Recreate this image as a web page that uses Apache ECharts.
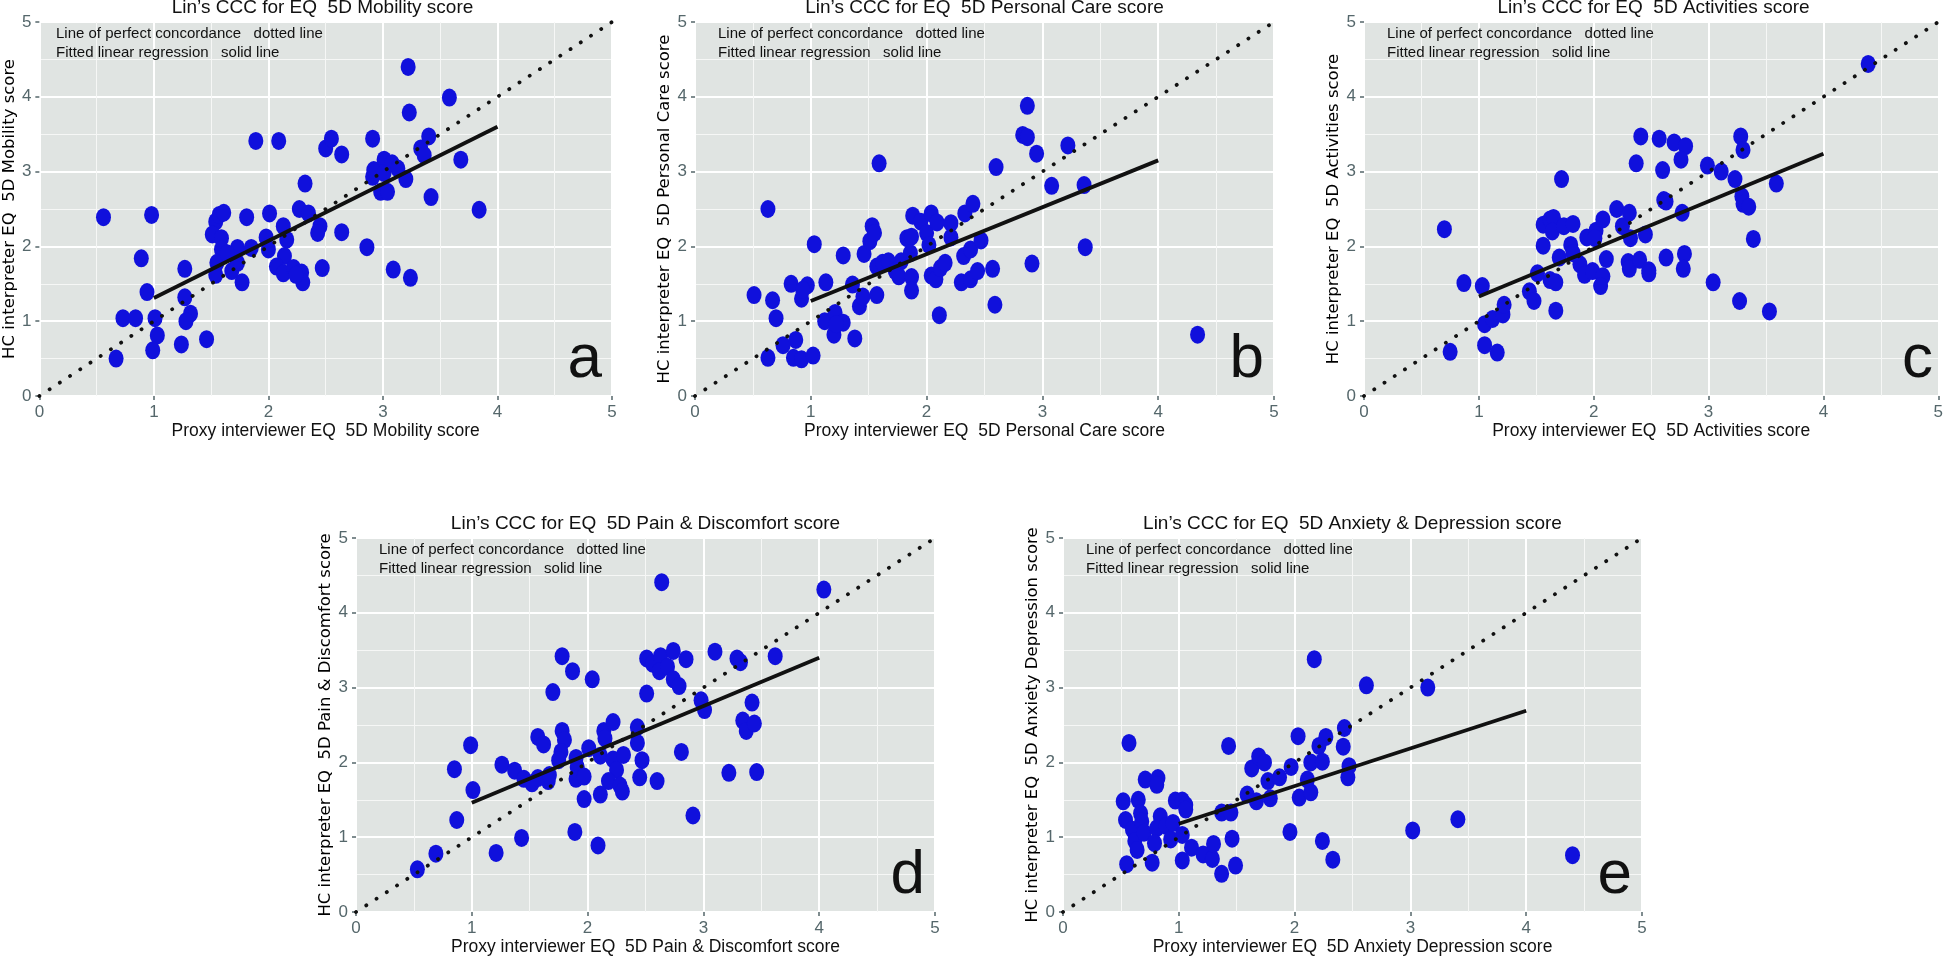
<!DOCTYPE html>
<html>
<head>
<meta charset="utf-8">
<title>Lin's CCC EQ-5D</title>
<script src="https://cdn.jsdelivr.net/npm/echarts@6/dist/echarts.min.js"></script>
<style>
  html, body { margin: 0; padding: 0; background: #fff; }
  #main { width: 1946px; height: 958px; }
</style>
</head>
<body>
<div id="main"></div>
<script>
// values: [proxy score, HC interpreter score]
var mobilityPts = [
  [0.56,2.39],[0.98,2.42],[0.89,1.84],[0.94,1.39],[0.73,1.04],[0.84,1.04],[1.01,1.04],[1.03,0.81],
  [0.99,0.61],[0.67,0.50],[1.27,1.70],[1.27,1.32],[1.32,1.10],[1.28,1.00],[1.24,0.69],[1.46,0.76],
  [1.54,2.33],[1.57,2.42],[1.61,2.45],[1.51,2.16],[1.59,2.11],[1.59,1.96],[1.55,1.78],[1.54,1.62],
  [1.68,1.67],[1.73,1.78],[1.73,1.98],[1.64,1.91],[1.77,1.52],[1.81,2.39],[1.85,1.98],[1.89,3.41],
  [2.09,3.41],[2.01,2.44],[1.98,2.12],[2.00,1.96],[2.13,2.27],[2.16,2.09],[2.14,1.87],[2.07,1.73],
  [2.13,1.64],[2.22,1.71],[2.29,1.65],[2.30,1.52],[2.24,1.62],[2.27,2.50],[2.35,2.44],[2.32,2.84],
  [2.45,2.27],[2.43,2.18],[2.47,1.71],[2.50,3.31],[2.55,3.44],[2.64,3.23],[2.64,2.19],[2.86,1.99],
  [2.91,3.44],[2.91,2.93],[2.92,3.02],[3.01,3.16],[3.01,2.98],[2.98,2.73],[3.04,2.73],[3.08,3.11],
  [3.13,3.04],[3.20,2.90],[3.09,1.69],[3.24,1.58],[3.22,4.40],[3.23,3.79],[3.33,3.31],[3.36,3.22],
  [3.40,3.47],[3.42,2.66],[3.58,3.99],[3.68,3.16],[3.84,2.49]
];
var mobilityFit = [[1,1.31],[4,3.60]];

var carePts = [
  [0.63,2.50],[0.51,1.35],[0.67,1.28],[0.70,1.04],[0.63,0.51],[0.76,0.68],[0.87,0.75],[0.85,0.51],
  [0.92,0.49],[1.02,0.54],[0.83,1.50],[0.97,1.48],[0.92,1.30],[0.93,1.42],[1.03,2.03],[1.13,1.52],
  [1.28,1.88],[1.12,1.00],[1.21,1.11],[1.20,0.82],[1.28,0.98],[1.22,0.96],[1.38,0.77],[1.36,1.49],
  [1.42,1.20],[1.45,1.33],[1.46,1.90],[1.51,2.07],[1.53,2.27],[1.55,2.18],[1.57,1.35],[1.57,1.73],
  [1.59,3.11],[1.62,1.78],[1.67,1.80],[1.73,1.67],[1.76,1.60],[1.78,1.80],[1.83,2.11],[1.87,2.13],
  [1.86,1.91],[1.87,1.59],[1.87,1.41],[1.88,2.41],[1.95,2.33],[2.00,2.18],[2.02,2.02],[2.04,2.44],
  [2.09,2.32],[2.04,1.61],[2.08,1.56],[2.12,1.71],[2.16,1.78],[2.11,1.08],[2.21,2.31],[2.21,2.12],
  [2.33,2.44],[2.40,2.57],[2.32,1.87],[2.38,1.96],[2.47,2.08],[2.30,1.52],[2.38,1.56],[2.44,1.67],
  [2.57,1.70],[2.59,1.22],[2.60,3.06],[2.83,3.49],[2.87,3.46],[2.87,3.88],[2.95,3.24],[2.91,1.77],
  [3.08,2.81],[3.22,3.35],[3.36,2.82],[3.37,1.99],[4.34,0.82]
];
var careFit = [[1,1.27],[4,3.15]];

var activitiesPts = [
  [0.70,2.23],[0.75,0.59],[0.87,1.51],[1.03,1.47],[1.05,0.96],[1.05,0.68],[1.12,1.03],[1.16,0.58],
  [1.21,1.09],[1.22,1.22],[1.44,1.40],[1.48,1.27],[1.51,1.64],[1.56,2.01],[1.56,2.29],[1.62,2.36],
  [1.65,2.38],[1.64,2.20],[1.62,1.55],[1.67,1.52],[1.67,1.14],[1.72,2.90],[1.74,2.27],[1.82,2.30],
  [1.80,2.02],[1.70,1.85],[1.82,1.91],[1.88,1.76],[1.92,1.62],[1.94,2.12],[2.02,2.21],[2.01,2.11],
  [2.08,2.36],[1.99,1.67],[2.08,1.60],[2.06,1.47],[2.11,1.83],[2.20,2.50],[2.25,2.27],[2.31,2.45],
  [2.32,2.11],[2.30,1.79],[2.31,1.70],[2.40,1.82],[2.45,2.16],[2.48,1.68],[2.48,1.64],[2.37,3.11],
  [2.41,3.47],[2.57,3.44],[2.60,3.02],[2.61,2.62],[2.63,2.60],[2.63,1.85],[2.70,3.39],[2.80,3.34],
  [2.76,3.16],[2.77,2.45],[2.79,1.90],[2.78,1.70],[2.99,3.08],[3.11,3.00],[3.04,1.52],[3.23,2.90],
  [3.28,3.47],[3.30,3.29],[3.29,2.67],[3.30,2.57],[3.35,2.53],[3.27,1.27],[3.39,2.10],[3.53,1.13],
  [3.59,2.84],[4.39,4.44]
];
var activitiesFit = [[1,1.33],[4,3.24]];

var painPts = [
  [0.53,0.57],[0.69,0.78],[0.85,1.91],[0.87,1.23],[0.99,2.23],[1.01,1.63],[1.21,0.79],[1.26,1.97],
  [1.37,1.89],[1.43,0.99],[1.45,1.78],[1.52,1.72],[1.57,2.34],[1.62,2.24],[1.57,1.79],[1.66,1.75],
  [1.67,1.83],[1.70,2.94],[1.78,3.42],[1.78,2.42],[1.80,2.30],[1.77,2.14],[1.75,2.03],[1.87,3.22],
  [1.90,2.06],[1.91,1.94],[1.90,1.78],[1.97,1.81],[1.97,1.51],[1.89,1.07],[2.04,3.11],[2.01,2.19],
  [2.09,0.89],[2.11,2.09],[2.14,2.42],[2.15,2.32],[2.22,2.54],[2.22,2.04],[2.25,1.90],[2.31,2.10],
  [2.18,1.75],[2.28,1.69],[2.30,1.61],[2.11,1.57],[2.43,2.47],[2.43,2.26],[2.47,2.03],[2.45,1.80],
  [2.51,3.39],[2.51,2.92],[2.56,3.32],[2.60,1.75],[2.63,3.42],[2.62,3.22],[2.69,3.28],[2.64,4.41],
  [2.74,3.49],[2.74,3.11],[2.79,3.02],[2.85,3.38],[2.81,2.14],[2.91,1.29],[2.98,2.83],[3.01,2.70],
  [3.10,3.48],[3.22,1.86],[3.29,3.39],[3.32,3.34],[3.34,2.56],[3.37,2.42],[3.42,2.80],[3.44,2.52],
  [3.46,1.87],[3.62,3.42],[4.04,4.31]
];
var painFit = [[1,1.46],[4,3.40]];

var anxietyPts = [
  [0.57,2.26],[0.52,1.48],[0.54,1.23],[0.55,0.64],[0.60,1.10],[0.62,0.95],[0.65,1.50],[0.67,1.32],
  [0.68,1.21],[0.64,0.83],[0.70,1.06],[0.71,1.77],[0.82,1.79],[0.81,1.70],[0.77,0.66],[0.84,1.28],
  [0.81,1.12],[0.79,0.92],[0.89,1.15],[0.93,0.97],[0.95,1.19],[0.97,1.49],[1.03,1.49],[1.06,1.43],
  [1.06,1.37],[1.03,1.03],[1.03,0.69],[1.11,0.86],[1.21,0.77],[1.29,0.71],[1.30,0.91],[1.37,0.51],
  [1.37,1.33],[1.45,1.33],[1.43,2.22],[1.46,0.98],[1.49,0.62],[1.59,1.57],[1.63,1.92],[1.67,1.48],
  [1.69,2.08],[1.74,2.00],[1.77,1.75],[1.79,1.52],[1.87,1.80],[1.96,1.07],[1.97,1.94],[2.03,2.35],
  [2.04,1.53],[2.11,1.77],[2.14,1.60],[2.14,2.00],[2.17,3.38],[2.21,2.22],[2.24,2.01],[2.27,2.34],
  [2.24,0.95],[2.33,0.70],[2.42,2.21],[2.43,2.46],[2.47,1.95],[2.46,1.80],[2.62,3.03],[3.02,1.09],
  [3.15,3.00],[3.41,1.24],[4.40,0.76]
];
var anxietyFit = [[1,1.18],[4,2.69]];

var concordance = [[0,0],[5,5]];
var axisMin = 0, axisMax = 5, axisStep = 1;

var panels = [
  {letter:'a', left:33,   top:22,  pts:mobilityPts,   fit:mobilityFit,
   title:'Lin\u2019s CCC for EQ  5D Mobility score',
   xName:'Proxy interviewer EQ  5D Mobility score', yName:'HC interpreter EQ  5D Mobility score'},
  {letter:'b', left:695,  top:22,  pts:carePts,       fit:careFit,
   title:'Lin\u2019s CCC for EQ  5D Personal Care score',
   xName:'Proxy interviewer EQ  5D Personal Care score', yName:'HC interpreter EQ  5D Personal Care score'},
  {letter:'c', left:1364, top:22,  pts:activitiesPts, fit:activitiesFit,
   title:'Lin\u2019s CCC for EQ  5D Activities score',
   xName:'Proxy interviewer EQ  5D Activities score', yName:'HC interpreter EQ  5D Activities score'},
  {letter:'d', left:356,  top:538, pts:painPts,       fit:painFit,
   title:'Lin\u2019s CCC for EQ  5D Pain & Discomfort score',
   xName:'Proxy interviewer EQ  5D Pain & Discomfort score', yName:'HC interpreter EQ  5D Pain & Discomfort score'},
  {letter:'e', left:1063, top:538, pts:anxietyPts,    fit:anxietyFit,
   title:'Lin\u2019s CCC for EQ  5D Anxiety & Depression score',
   xName:'Proxy interviewer EQ  5D Anxiety Depression score', yName:'HC interpreter EQ  5D Anxiety Depression score'}
];

var W = 579, H = 374;
var narrow = '"Liberation Sans Narrow", "Arial Narrow", sans-serif';
var tickGrey = '#55676b';

var grids = [], xAxes = [], yAxes = [], series = [], graphics = [];

function axisBase(name, gap) {
  return {
    min: axisMin, max: axisMax, interval: axisStep,
    name: name, nameLocation: 'middle', nameGap: gap,
    axisLine: {show: false},
    axisTick: {show: true, length: 4, lineStyle: {color: tickGrey, width: 1.5}},
    axisLabel: {color: tickGrey, fontFamily: narrow, fontSize: 17, margin: 8},
    splitLine: {show: true, lineStyle: {color: '#ffffff', width: 2}},
    minorTick: {show: true, splitNumber: 2, length: 0},
    minorSplitLine: {show: true, lineStyle: {color: '#f6f7f6', width: 1}}
  };
}

panels.forEach(function(p, i) {
  grids.push({left: p.left, top: p.top, width: W, height: H, show: true,
    backgroundColor: '#e0e4e2', borderWidth: 0});

  var xa = axisBase(p.xName, 26);
  xa.gridIndex = i; xa.type = 'value';
  xa.nameTextStyle = {color: '#111', fontFamily: narrow, fontSize: 17.5};
  xAxes.push(xa);

  var ya = axisBase(p.yName, 16);
  ya.gridIndex = i; ya.type = 'value';
  ya.nameTextStyle = {color: '#000', fontFamily: '"DejaVu Sans", sans-serif', fontSize: 16.5};
  yAxes.push(ya);

  series.push({
    type: 'scatter', xAxisIndex: i, yAxisIndex: i,
    data: p.pts, symbol: 'circle', symbolSize: [15, 18],
    itemStyle: {color: '#1010dc', opacity: 1},
    silent: true, z: 2
  });
  series.push({
    type: 'line', xAxisIndex: i, yAxisIndex: i,
    data: concordance, symbol: 'none', silent: true, z: 3,
    lineStyle: {color: '#111', width: 3.8, type: [0.1, 12.1], cap: 'round'}
  });
  series.push({
    type: 'line', xAxisIndex: i, yAxisIndex: i,
    data: p.fit, symbol: 'none', silent: true, z: 4,
    lineStyle: {color: '#111', width: 3.8, type: 'solid'}
  });

  // panel title
  graphics.push({type: 'text', x: p.left + W / 2, y: p.top - 14, z: 10,
    style: {text: p.title, font: '19px ' + narrow, fill: '#111',
      align: 'center', verticalAlign: 'middle', textAlign: 'center', textVerticalAlign: 'middle'}});
  // legend lines
  graphics.push({type: 'text', x: p.left + 23, y: p.top + 12, z: 10,
    style: {text: 'Line of perfect concordance   dotted line', font: '15px ' + narrow, fill: '#111',
      align: 'left', verticalAlign: 'middle', textAlign: 'left', textVerticalAlign: 'middle'}});
  graphics.push({type: 'text', x: p.left + 23, y: p.top + 31, z: 10,
    style: {text: 'Fitted linear regression   solid line', font: '15px ' + narrow, fill: '#111',
      align: 'left', verticalAlign: 'middle', textAlign: 'left', textVerticalAlign: 'middle'}});
  // panel letter
  graphics.push({type: 'text', x: p.left + W - 10, y: p.top + H - 5, z: 10,
    style: {text: p.letter, font: '62px "Liberation Sans", Arial, sans-serif', fill: '#111',
      align: 'right', verticalAlign: 'bottom', textAlign: 'right', textVerticalAlign: 'bottom'}});
});

var chart = echarts.init(document.getElementById('main'), null, {renderer: 'canvas'});
chart.setOption({
  animation: false,
  backgroundColor: '#ffffff',
  grid: grids,
  xAxis: xAxes,
  yAxis: yAxes,
  series: series,
  graphic: {elements: graphics}
});
</script>
</body>
</html>
